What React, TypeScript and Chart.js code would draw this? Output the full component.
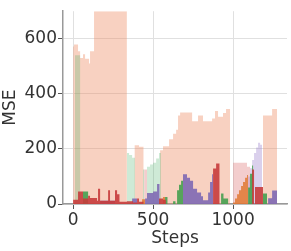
import { useEffect, useRef } from 'react';
import { Chart, registerables } from 'chart.js';
Chart.register(...registerables);

// Tick labels
const xTicks = [0, 500, 1000];
const yTicks = [0, 200, 400, 600];

// Light (translucent) series: step where a level begins, MSE level held until next step
const salmonSteps = [0, 6, 31, 44, 62, 75, 100, 106, 131, 336, 385, 412, 440, 544, 562, 600, 625, 644, 656, 669, 744, 781, 812, 869, 887, 906, 937, 956, 981, 1187, 1244, 1275];
const salmonMSE = [572, 579, 555, 530, 544, 527, 510, 555, 800, 0, 213, 208, 0, 195, 210, 235, 255, 270, 321, 332, 300, 321, 300, 310, 338, 317, 330, 345, 0, 321, 345, 0];

const lightGreenSteps = [12, 44, 337, 350, 369, 387, 437, 444, 462, 481, 500, 519, 537, 550];
const lightGreenMSE = [540, 0, 185, 178, 168, 0, 125, 0, 135, 143, 150, 165, 185, 0];

const lightRedSteps = [444, 462, 1000, 1087, 1106];
const lightRedMSE = [125, 0, 150, 135, 0];

const lightPurpleSteps = [1094, 1106, 1119, 1131, 1144, 1156, 1169, 1181];
const lightPurpleMSE = [100, 130, 160, 185, 205, 222, 215, 0];

// Solid series
const redSteps = [0, 31, 62, 94, 106, 150, 156, 169, 219, 231, 262, 275, 290, 336, 375, 400, 412, 440, 537, 562, 580, 875, 894, 915, 1119, 1131, 1137, 1187];
const redMSE = [15, 45, 20, 30, 22, 12, 55, 12, 50, 12, 50, 35, 8, 10, 5, 20, 8, 0, 20, 15, 0, 129, 147, 0, 125, 0, 62, 0];

const greenSteps = [62, 94, 575, 590, 625, 640, 650, 662, 675, 687, 925, 940, 969, 1094, 1106, 1119, 1125, 1187, 1212];
const greenMSE = [45, 0, 25, 0, 10, 0, 50, 70, 84, 0, 38, 20, 0, 60, 110, 140, 0, 38, 0];

const purpleSteps = [169, 262, 369, 400, 450, 462, 500, 525, 540, 687, 712, 731, 750, 775, 800, 812, 844, 856, 869, 875, 1219, 1244, 1275];
const purpleMSE = [12, 0, 20, 0, 20, 40, 45, 73, 0, 108, 95, 84, 55, 42, 28, 14, 42, 80, 108, 0, 21, 49, 0];

const orangeSteps = [431, 450, 562, 575, 1000, 1012, 1025, 1037, 1050, 1062, 1075, 1087, 1094];
const orangeMSE = [17, 0, 25, 0, 5, 20, 35, 50, 65, 80, 95, 105, 0];

const series = [
  { steps: salmonSteps, values: salmonMSE, color: 'rgba(238,140,100,0.4)', order: 10 },
  { steps: lightGreenSteps, values: lightGreenMSE, color: 'rgba(60,170,90,0.25)', order: 9 },
  { steps: lightRedSteps, values: lightRedMSE, color: 'rgba(214,90,90,0.3)', order: 8 },
  { steps: lightPurpleSteps, values: lightPurpleMSE, color: 'rgba(148,120,200,0.35)', order: 7 },
  { steps: orangeSteps, values: orangeMSE, color: 'rgba(225,120,50,0.85)', order: 4 },
  { steps: purpleSteps, values: purpleMSE, color: 'rgba(128,105,180,0.9)', order: 3 },
  { steps: greenSteps, values: greenMSE, color: 'rgba(70,160,80,0.9)', order: 2 },
  { steps: redSteps, values: redMSE, color: 'rgba(200,60,60,0.9)', order: 1 },
];

const FONT = 'DejaVu Sans';
const TEXT = '#333333';

export default function App() {
  const ref = useRef<HTMLCanvasElement>(null);
  useEffect(() => {
    document.body.style.margin = '0';
    const chart = new Chart(ref.current!, {
      type: 'line',
      data: {
        datasets: series.map((s) => ({
          data: s.steps.map((x, i) => ({ x, y: s.values[i] })),
          stepped: 'before' as const,
          fill: 'origin',
          backgroundColor: s.color,
          borderColor: 'transparent',
          borderWidth: 0,
          pointRadius: 0,
          order: s.order,
        })),
      },
      options: {
        animation: false,
        responsive: false,
        maintainAspectRatio: false,
        plugins: { legend: { display: false }, tooltip: { enabled: false } },
        layout: { padding: { top: 3, right: 4, left: 0, bottom: 0 } },
        scales: {
          x: {
            type: 'linear',
            min: -63,
            max: 1337,
            afterBuildTicks: (s: any) => { s.ticks = xTicks.map((v) => ({ value: v })); },
            afterFit: (s: any) => { s.height = 47; },
            grid: { color: '#e0e0e0', tickColor: '#555', tickLength: 5, lineWidth: 1 },
            border: { color: '#999', width: 1.5 },
            ticks: { color: TEXT, font: { family: FONT, size: 17 }, padding: 1, maxRotation: 0, callback: (v: any) => String(v) },
            title: { display: true, text: 'Steps', color: TEXT, font: { family: FONT, size: 17 }, padding: { top: 0, bottom: 2 } },
          },
          y: {
            min: 0,
            max: 700,
            afterBuildTicks: (s: any) => { s.ticks = yTicks.map((v) => ({ value: v })); },
            afterFit: (s: any) => { s.width = 63; },
            grid: { color: '#e0e0e0', tickColor: '#555', tickLength: 5, lineWidth: 1 },
            border: { color: '#999', width: 1.5 },
            ticks: { color: TEXT, font: { family: FONT, size: 17 }, padding: 1, callback: (v: any) => String(v) },
            title: { display: true, text: 'MSE', color: TEXT, font: { family: FONT, size: 17 }, padding: { top: 0, bottom: 0 } },
          },
        },
      } as any,
    });
    return () => chart.destroy();
  }, []);
  return (
    <div style={{ width: 291, height: 251 }}>
      <canvas ref={ref} width={291} height={251} style={{ display: 'block' }} />
    </div>
  );
}
